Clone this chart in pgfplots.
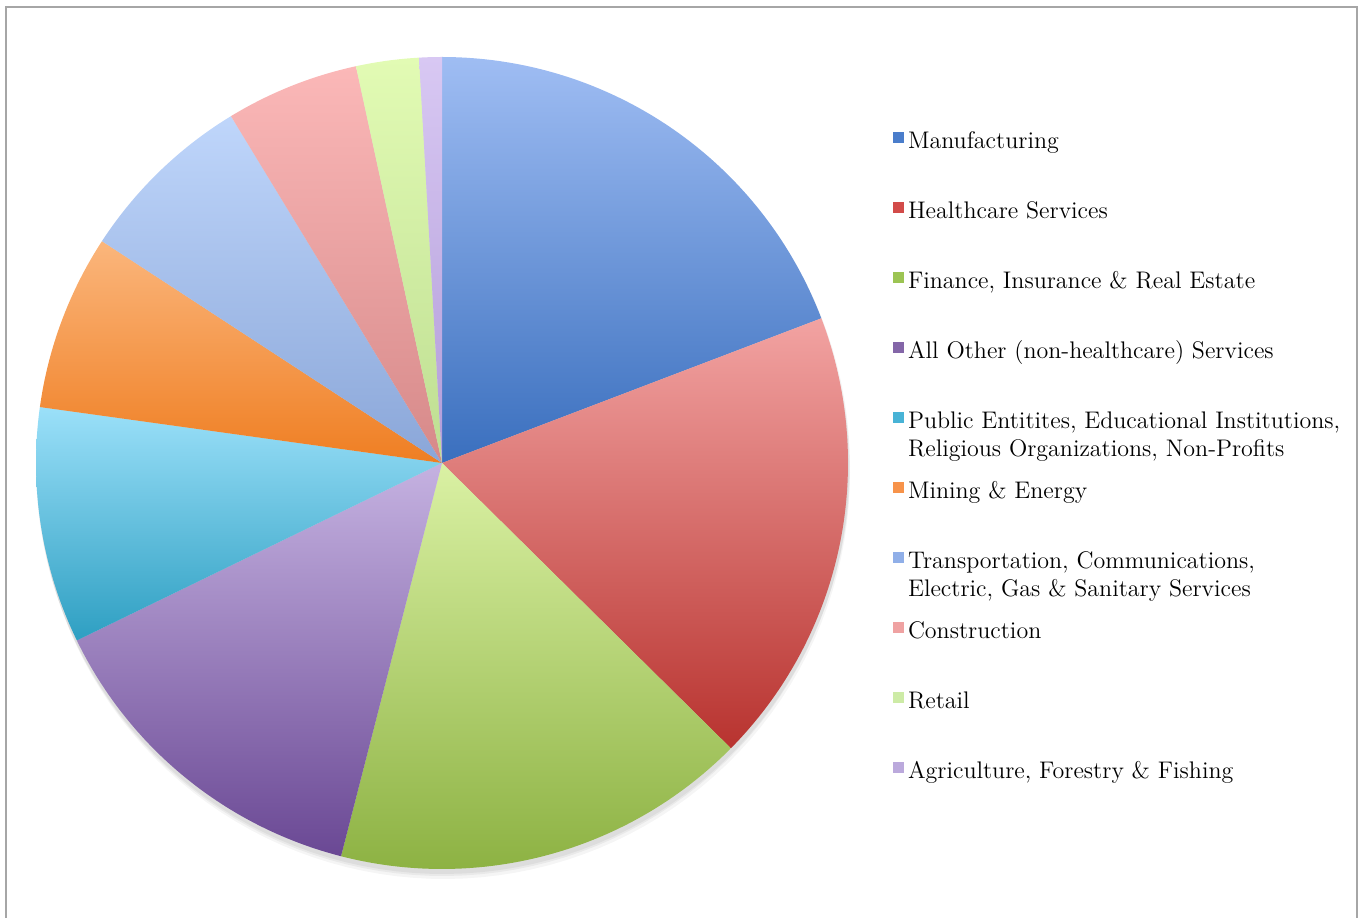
\documentclass[border=0pt]{standalone}
\usepackage{pgfplots}
\pgfplotsset{compat=1.18}
\definecolor{manT}{HTML}{9FBDF3}\definecolor{manB}{HTML}{3A6FBE}
\definecolor{heaT}{HTML}{F2A3A2}\definecolor{heaB}{HTML}{B8332F}
\definecolor{finT}{HTML}{DAF1A4}\definecolor{finB}{HTML}{8DB243}
\definecolor{othT}{HTML}{C5B2E1}\definecolor{othB}{HTML}{6A4894}
\definecolor{pubT}{HTML}{9BE0F9}\definecolor{pubB}{HTML}{2E9FC2}
\definecolor{minT}{HTML}{FBB67C}\definecolor{minB}{HTML}{EF7E22}
\definecolor{traT}{HTML}{BFD6FB}\definecolor{traB}{HTML}{8AA6D8}
\definecolor{conT}{HTML}{FBB8B8}\definecolor{conB}{HTML}{D68989}
\definecolor{retT}{HTML}{E2FBB4}\definecolor{retB}{HTML}{BEDE92}
\definecolor{agrT}{HTML}{D8C8F3}\definecolor{agrB}{HTML}{B29CD8}
\definecolor{manL}{HTML}{4A7DCB}
\definecolor{heaL}{HTML}{D24B49}
\definecolor{finL}{HTML}{9CC453}
\definecolor{othL}{HTML}{8466A8}
\definecolor{pubL}{HTML}{48B3D6}
\definecolor{minL}{HTML}{F7934A}
\definecolor{traL}{HTML}{90AFE8}
\definecolor{conL}{HTML}{EFA2A2}
\definecolor{retL}{HTML}{CDEBA6}
\definecolor{agrL}{HTML}{BBA9DC}
\definecolor{frame}{HTML}{A6A6A6}
% shares in percent, clockwise from 12 o'clock
\def\vA{19.2}% Manufacturing
\def\vB{18.2}% Healthcare Services
\def\vC{16.6}% Finance, Insurance & Real Estate
\def\vD{13.8}% All Other (non-healthcare) Services
\def\vE{9.4}%  Public Entities ...
\def\vF{7.0}%  Mining & Energy
\def\vG{7.1}%  Transportation ...
\def\vH{5.3}%  Construction
\def\vI{2.5}%  Retail
\def\vJ{0.9}%  Agriculture, Forestry & Fishing
\begin{document}
\begin{tikzpicture}
\pgfmathsetmacro\aA{90}
\pgfmathsetmacro\aB{\aA-3.6*\vA}
\pgfmathsetmacro\aC{\aB-3.6*\vB}
\pgfmathsetmacro\aD{\aC-3.6*\vC}
\pgfmathsetmacro\aE{\aD-3.6*\vD}
\pgfmathsetmacro\aF{\aE-3.6*\vE}
\pgfmathsetmacro\aG{\aF-3.6*\vF}
\pgfmathsetmacro\aH{\aG-3.6*\vG}
\pgfmathsetmacro\aI{\aH-3.6*\vH}
\pgfmathsetmacro\aJ{\aI-3.6*\vI}
\pgfmathsetmacro\aK{\aJ-3.6*\vJ}
\path (0,0) rectangle (679.5pt,459pt);
\begin{axis}[
  at={(0,0)}, anchor=south west,
  scale only axis, width=679.5pt, height=459pt,
  xmin=0, xmax=1359, ymin=0, ymax=918,
  hide axis, clip=false,
  legend style={at={(0.6571,0.8595)}, anchor=north west, draw=none, fill=none,
    inner sep=0pt, outer sep=0pt, row sep=0pt, column sep=2pt,
    font=\fontsize{12}{14}\selectfont,
    cells={anchor=base west},
    nodes={inner sep=0pt, text height=10pt, text depth=25pt, anchor=base west}},
  legend image code/.code={\fill[#1] (0pt,3pt) rectangle (5.5pt,8.3pt);},
]
% soft shadow
\addplot[forget plot, fill=black, fill opacity=0.05, draw=none, domain=0:360, samples=150] ({443+407*cos(x)},{451+407*sin(x)}) -- cycle;
\addplot[forget plot, fill=black, fill opacity=0.05, draw=none, domain=0:360, samples=150] ({443+406*cos(x)},{448+406*sin(x)}) -- cycle;
\addplot[forget plot, fill=black, fill opacity=0.04, draw=none, domain=0:360, samples=150] ({444+406*cos(x)},{445+406*sin(x)}) -- cycle;
% slices
\addplot[forget plot, draw=none, top color=manT, bottom color=manB, domain=\aB:\aA, samples=80] ({442+406*cos(x)},{455+406*sin(x)}) -- (442,455) -- cycle;
\addplot[forget plot, draw=none, top color=heaT, bottom color=heaB, domain=\aC:\aB, samples=80] ({442+406*cos(x)},{455+406*sin(x)}) -- (442,455) -- cycle;
\addplot[forget plot, draw=none, top color=finT, bottom color=finB, domain=\aD:\aC, samples=80] ({442+406*cos(x)},{455+406*sin(x)}) -- (442,455) -- cycle;
\addplot[forget plot, draw=none, top color=othT, bottom color=othB, domain=\aE:\aD, samples=80] ({442+406*cos(x)},{455+406*sin(x)}) -- (442,455) -- cycle;
\addplot[forget plot, draw=none, top color=pubT, bottom color=pubB, domain=\aF:\aE, samples=60] ({442+406*cos(x)},{455+406*sin(x)}) -- (442,455) -- cycle;
\addplot[forget plot, draw=none, top color=minT, bottom color=minB, domain=\aG:\aF, samples=50] ({442+406*cos(x)},{455+406*sin(x)}) -- (442,455) -- cycle;
\addplot[forget plot, draw=none, top color=traT, bottom color=traB, domain=\aH:\aG, samples=50] ({442+406*cos(x)},{455+406*sin(x)}) -- (442,455) -- cycle;
\addplot[forget plot, draw=none, top color=conT, bottom color=conB, domain=\aI:\aH, samples=40] ({442+406*cos(x)},{455+406*sin(x)}) -- (442,455) -- cycle;
\addplot[forget plot, draw=none, top color=retT, bottom color=retB, domain=\aJ:\aI, samples=30] ({442+406*cos(x)},{455+406*sin(x)}) -- (442,455) -- cycle;
\addplot[forget plot, draw=none, top color=agrT, bottom color=agrB, domain=\aK:\aJ, samples=20] ({442+406*cos(x)},{455+406*sin(x)}) -- (442,455) -- cycle;
% frame
\draw[frame, line width=1pt] (6,0) -- (6,911) -- (1357,911) -- (1357,0);
% legend
\addlegendimage{fill=manL, draw=none}\addlegendentry{Manufacturing}
\addlegendimage{fill=heaL, draw=none}\addlegendentry{Healthcare Services}
\addlegendimage{fill=finL, draw=none}\addlegendentry{Finance, Insurance \& Real Estate}
\addlegendimage{fill=othL, draw=none}\addlegendentry{All Other (non-healthcare) Services}
\addlegendimage{fill=pubL, draw=none}\addlegendentry{\begin{tabular}[t]{@{}l@{}}Public Entitites, Educational Institutions,\\Religious Organizations, Non-Profits\end{tabular}}
\addlegendimage{fill=minL, draw=none}\addlegendentry{Mining \& Energy}
\addlegendimage{fill=traL, draw=none}\addlegendentry{\begin{tabular}[t]{@{}l@{}}Transportation, Communications,\\Electric, Gas \& Sanitary Services\end{tabular}}
\addlegendimage{fill=conL, draw=none}\addlegendentry{Construction}
\addlegendimage{fill=retL, draw=none}\addlegendentry{Retail}
\addlegendimage{fill=agrL, draw=none}\addlegendentry{Agriculture, Forestry \& Fishing}
\end{axis}
\end{tikzpicture}
\end{document}
